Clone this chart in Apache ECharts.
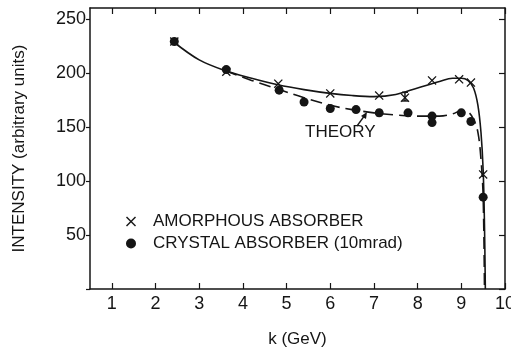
<!DOCTYPE html>
<html>
<head>
<meta charset="utf-8">
<script src="https://cdn.jsdelivr.net/npm/echarts@6/dist/echarts.min.js"></script>
<style>
  html, body { margin: 0; padding: 0; background: #fff; }
  #chart { width: 511px; height: 350px; }
</style>
</head>
<body>
<div id="chart"></div>
<script>
// measured points (k in GeV, intensity in arbitrary units)
const amorK = [2.43, 3.62, 4.81, 6.0, 7.12, 7.71, 8.33, 8.95, 9.22, 9.5];
const amorI = [229, 201, 190, 181, 179, 177, 193, 194, 191, 106];
const crysK = [2.43, 3.62, 4.83, 5.4, 6.0, 6.59, 7.12, 7.78, 8.33, 8.33, 9.0, 9.22, 9.5];
const crysI = [229, 203, 184, 173, 167, 166, 163, 163, 160, 154, 163, 155, 85];

// error bars: [k, low, high]
const amorErr = [[7.71, 174, 182]];
const crysErr = [[7.12, 160.5, 165.5]];

// theory curves
const solidK = [2.4, 3.0, 3.6, 4.2, 4.8, 5.4, 6.0, 6.5, 7.0, 7.5, 8.0, 8.5, 8.8, 9.0, 9.15, 9.28, 9.38, 9.45, 9.5, 9.53, 9.55];
const solidI = [229, 212, 202, 195, 189, 184.5, 181, 179, 178, 180, 186, 192, 195, 195, 193, 186, 170, 145, 110, 60, 0];
const dashK = [3.6, 4.2, 4.8, 5.4, 6.0, 6.5, 7.0, 7.5, 8.0, 8.5, 8.8, 9.0, 9.15, 9.28, 9.38, 9.45, 9.5, 9.53];
const dashI = [202, 193, 185, 177, 170, 166, 163, 161, 160, 160, 162, 165, 164, 157, 145, 120, 85, 0];

// axis ticks
const xTicks = [1, 2, 3, 4, 5, 6, 7, 8, 9, 10];
const yTicks = [0, 50, 100, 150, 200, 250];
const yLabels = [50, 100, 150, 200, 250];

const zip = (a, b) => a.map((v, i) => [v, b[i]]);

const ink = '#151515';
const font = 'Liberation Sans';
const crossSymbol = 'path://M0,1L1,0L5,4L9,0L10,1L6,5L10,9L9,10L5,6L1,10L0,9L4,5Z';

// 误差棒
const errRender = (params, api) => {
  const k = api.value(0);
  const lo = api.coord([k, api.value(1)]);
  const hi = api.coord([k, api.value(2)]);
  const style = { stroke: ink, lineWidth: 1.5 };
  return {
    type: 'group',
    children: [
      { type: 'line', shape: { x1: lo[0], y1: lo[1], x2: hi[0], y2: hi[1] }, style },
      { type: 'line', shape: { x1: lo[0] - 3, y1: lo[1], x2: lo[0] + 3, y2: lo[1] }, style },
      { type: 'line', shape: { x1: hi[0] - 3, y1: hi[1], x2: hi[0] + 3, y2: hi[1] }, style },
    ],
  };
};

const tick = (vals, inside, len) => ({ show: true, inside, length: len, lineStyle: { color: ink, width: 1.2 }, customValues: vals });
const frameLine = { show: true, onZero: false, lineStyle: { color: ink, width: 1.5 } };
// 隐形标签，只为了让次坐标轴画出刻度
const ghostLabel = (vals) => ({ show: true, color: 'rgba(0,0,0,0)', fontSize: 1, customValues: vals });

const chart = echarts.init(document.getElementById('chart'));
chart.setOption({
  animation: false,
  textStyle: { fontFamily: font, color: ink },
  grid: { left: 90, right: 6, top: 8, bottom: 61, containLabel: false, outerBoundsMode: 'none' },
  legend: {
    orient: 'vertical',
    left: 121,
    top: 208,
    itemGap: 5,
    itemWidth: 10,
    itemHeight: 10,
    textStyle: { fontFamily: font, fontSize: 17, color: ink, padding: [0, 0, 0, 12] },
    data: ['AMORPHOUS ABSORBER', 'CRYSTAL ABSORBER (10mrad)'],
  },
  xAxis: [
    {
      type: 'value',
      min: 0.5,
      max: 10,
      name: 'k (GeV)',
      nameLocation: 'middle',
      nameGap: 42,
      nameTextStyle: { fontFamily: font, fontSize: 17, color: ink },
      axisLine: frameLine,
      splitLine: { show: false },
      axisTick: tick(xTicks, true, 6),
      axisLabel: { fontFamily: font, fontSize: 18, color: ink, margin: 6, customValues: xTicks },
    },
    {
      type: 'value',
      position: 'top',
      min: 0.5,
      max: 10,
      axisLine: frameLine,
      splitLine: { show: false },
      axisTick: tick(xTicks, true, 6),
      axisLabel: ghostLabel(xTicks),
    },
  ],
  yAxis: [
    {
      type: 'value',
      min: 0,
      max: 260,
      name: 'INTENSITY (arbitrary units)',
      nameLocation: 'middle',
      nameGap: 62,
      nameTextStyle: { fontFamily: font, fontSize: 17, color: ink },
      axisLine: frameLine,
      splitLine: { show: false },
      axisTick: tick(yTicks, false, 4),
      axisLabel: { fontFamily: font, fontSize: 18, color: ink, margin: 4, customValues: yLabels },
    },
    {
      type: 'value',
      position: 'right',
      min: 0,
      max: 260,
      axisLine: frameLine,
      splitLine: { show: false },
      axisTick: tick(yTicks, true, 6),
      axisLabel: ghostLabel(yTicks),
    },
  ],
  series: [
    {
      name: 'theory solid',
      type: 'line',
      data: zip(solidK, solidI),
      showSymbol: false,
      smooth: 0.35,
      lineStyle: { color: ink, width: 1.6 },
      silent: true,
    },
    {
      name: 'theory dashed',
      type: 'line',
      data: zip(dashK, dashI),
      showSymbol: false,
      smooth: 0.35,
      lineStyle: { color: ink, width: 1.6, type: [12, 6] },
      silent: true,
    },
    {
      name: 'AMORPHOUS ABSORBER',
      type: 'scatter',
      data: zip(amorK, amorI),
      symbol: crossSymbol,
      symbolSize: 9,
      itemStyle: { color: ink, opacity: 1 },
      z: 5,
    },
    {
      name: 'CRYSTAL ABSORBER (10mrad)',
      type: 'scatter',
      data: zip(crysK, crysI),
      symbol: 'circle',
      symbolSize: 9,
      itemStyle: { color: ink, opacity: 1 },
      z: 4,
    },
    { type: 'custom', data: amorErr, renderItem: errRender, silent: true },
    { type: 'custom', data: crysErr, renderItem: errRender, silent: true },
  ],
  graphic: [
    {
      type: 'text',
      left: 305,
      top: 124,
      style: { text: 'THEORY', font: '17px "Liberation Sans"', fill: ink },
    },
    {
      type: 'line',
      shape: { x1: 357, y1: 126, x2: 365, y2: 115 },
      style: { stroke: ink, lineWidth: 1.3 },
    },
    {
      type: 'polygon',
      shape: { points: [[367, 112], [361, 116], [366, 119]] },
      style: { fill: ink },
    },
  ],
});
</script>
</body>
</html>
